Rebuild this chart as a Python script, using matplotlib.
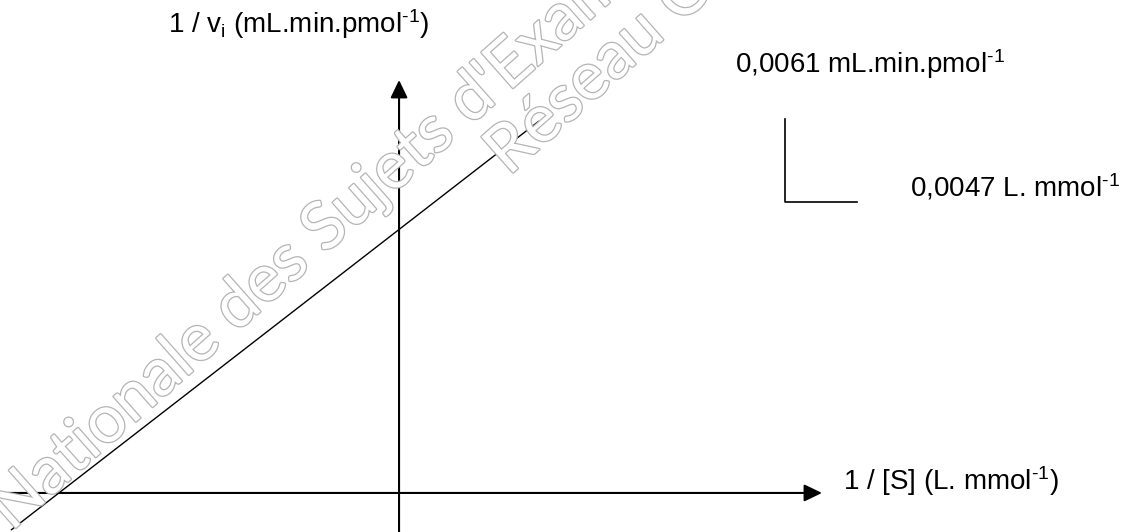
import matplotlib
matplotlib.use("Agg")
import matplotlib.pyplot as plt
from matplotlib.patches import FancyArrowPatch
import matplotlib.patheffects as pe

# Lineweaver-Burk line (1/[S] in L.mmol-1, 1/vi in mL.min.pmol-1)
line_x = [-0.0253, 0.0091]
line_y = [-0.0027, 0.0273]

# scale bar values
scale_dx = 0.0047
scale_dy = 0.0061
scale_x_label = "0,0047 L. mmol$^{\\text{-1}}$"
scale_y_label = "0,0061 mL.min.pmol$^{\\text{-1}}$"

x_label = "1 / [S] (L. mmol$^{\\text{-1}}$)"
y_label = "1 / v$_\\mathrm{i}$ (mL.min.pmol$^{\\text{-1}}$)"

watermark = ["Nationale des Sujets d'Examens", "Réseau Canopé"]

plt.rcParams["font.family"] = ["Liberation Sans", "DejaVu Sans"]
plt.rcParams["mathtext.fontset"] = "custom"
plt.rcParams["mathtext.rm"] = "Liberation Sans"
plt.rcParams["mathtext.it"] = "Liberation Sans"
plt.rcParams["mathtext.default"] = "rm"


def arrow(ax, start, end):
    a = FancyArrowPatch(start, end, arrowstyle="-|>,head_length=10.8,head_width=5.2",
                        mutation_scale=1, shrinkA=0, shrinkB=0,
                        color="black", lw=1.5, zorder=3)
    ax.add_patch(a)


def main():
    fig = plt.figure(figsize=(11.25, 5.32), dpi=100)
    ax = fig.add_axes([0, 0, 1, 1])
    ax.set_xlim(-0.02605, 0.04739)
    ax.set_ylim(-0.00287, 0.03623)
    ax.axis("off")

    # watermark (hollow grey letters)
    wm = [pe.Stroke(linewidth=1.8, foreground="#b4b4b4"), pe.Normal()]
    for (px, py), txt in zip([(0.010, 0.0), (0.452, 0.668)], watermark):
        fig.text(px, py, txt, fontsize=48, family="Lato", color="white",
                 rotation=41.5, rotation_mode="anchor", ha="left", va="baseline",
                 path_effects=wm, zorder=0)

    # axes through the origin
    y0 = ax.get_ylim()[0]
    arrow(ax, (-0.02552, 0), (0.02761, 0))
    arrow(ax, (0, y0), (0, 0.03035))

    ax.plot(line_x, line_y, color="black", lw=1.0, zorder=4)

    # scale bar
    cx, cy = 0.0252, 0.02139
    ax.plot([cx, cx, cx + scale_dx], [cy + scale_dy, cy, cy], color="black", lw=1.2)

    fs = 20
    ax.text(0.149, 1 - 33 / 532, y_label, transform=ax.transAxes, fontsize=fs,
            ha="left", va="baseline")
    ax.text(0.749, 1 - 490 / 532, x_label, transform=ax.transAxes, fontsize=fs,
            ha="left", va="baseline")
    ax.text(0.653, 1 - 73 / 532, scale_y_label, transform=ax.transAxes, fontsize=fs,
            ha="left", va="baseline")
    ax.text(0.809, 1 - 196 / 532, scale_x_label, transform=ax.transAxes, fontsize=fs,
            ha="left", va="baseline")

    fig.savefig("out.png", dpi=100)


if __name__ == "__main__":
    main()
